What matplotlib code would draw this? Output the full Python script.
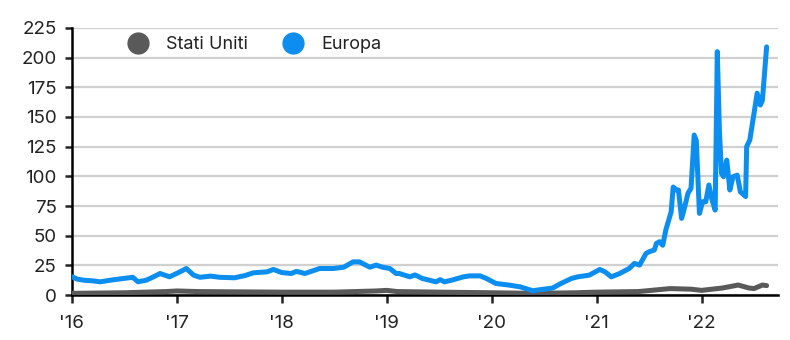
import numpy as np
import matplotlib.pyplot as plt
from matplotlib.lines import Line2D

# values (x as decimal years)
eu_years = [2016.00, 2016.05, 2016.11, 2016.20, 2016.27, 2016.37, 2016.49, 2016.58, 2016.63,
            2016.71, 2016.78, 2016.84, 2016.93, 2017.03, 2017.09, 2017.16, 2017.22, 2017.32,
            2017.41, 2017.55, 2017.65, 2017.73, 2017.86, 2017.92, 2018.00, 2018.09, 2018.14,
            2018.22, 2018.36, 2018.49, 2018.59, 2018.68, 2018.74, 2018.84, 2018.90, 2018.96,
            2019.03, 2019.09, 2019.12, 2019.22, 2019.27, 2019.34, 2019.47, 2019.51, 2019.55,
            2019.62, 2019.73, 2019.79, 2019.89, 2019.95, 2020.04, 2020.17, 2020.27, 2020.39,
            2020.48, 2020.58, 2020.66, 2020.76, 2020.82, 2020.93, 2021.03, 2021.08, 2021.14,
            2021.22, 2021.31, 2021.36, 2021.41, 2021.47, 2021.50, 2021.55, 2021.57, 2021.60,
            2021.63, 2021.66, 2021.71, 2021.73, 2021.76, 2021.78, 2021.81, 2021.84, 2021.87,
            2021.90, 2021.93, 2021.95, 2021.98, 2022.01, 2022.04, 2022.07, 2022.10, 2022.13,
            2022.15, 2022.17, 2022.19, 2022.21, 2022.24, 2022.27, 2022.30, 2022.34, 2022.37,
            2022.42, 2022.43, 2022.46, 2022.53, 2022.56, 2022.58, 2022.62]
eu_vals = [15.5, 13.5, 12.6, 12.0, 11.2, 12.6, 14.0, 15.0, 11.2,
           12.6, 15.5, 18.2, 15.4, 19.6, 22.4, 16.8, 15.0, 16.0,
           15.0, 14.6, 16.5, 18.8, 19.6, 21.6, 19.0, 18.2, 20.0,
           18.2, 22.4, 22.4, 23.5, 28.0, 28.0, 23.5, 25.3, 23.5,
           22.4, 18.2, 18.2, 15.4, 17.0, 14.0, 11.2, 13.0, 11.2,
           12.6, 15.4, 16.2, 16.2, 14.0, 9.8, 8.4, 7.0, 3.7,
           4.8, 5.9, 9.8, 14.0, 15.4, 16.8, 21.6, 19.6, 15.4,
           18.2, 22.4, 26.7, 25.3, 35.0, 36.5, 38.0, 43.5, 45.0,
           42.0, 55.0, 70.0, 91.0, 88.5, 88.5, 64.6, 74.4, 85.6,
           90.0, 134.8, 130.0, 68.8, 78.6, 78.6, 92.7, 80.0, 71.6,
           205.0, 139.0, 102.5, 99.7, 113.7, 88.5, 99.7, 101.0, 87.0,
           83.0, 125.0, 130.6, 170.0, 160.0, 164.0, 209.0]

us_years = [2016.00, 2016.50, 2016.90, 2017.00, 2017.20, 2017.50, 2018.00, 2018.50, 2018.90,
            2019.00, 2019.10, 2019.50, 2020.00, 2020.40, 2020.80, 2021.00, 2021.40, 2021.70,
            2021.90, 2022.00, 2022.20, 2022.35, 2022.45, 2022.50, 2022.58, 2022.62]
us_vals = [1.5, 2.0, 3.0, 3.5, 3.0, 2.8, 2.5, 2.5, 3.5,
           4.0, 3.0, 2.5, 2.0, 1.5, 2.0, 2.5, 3.0, 5.5,
           5.0, 4.0, 6.0, 8.5, 6.0, 5.5, 8.5, 8.0]

year_ticks = [2016, 2017, 2018, 2019, 2020, 2021, 2022]
year_labels = ["'16", "'17", "'18", "'19", "'20", "'21", "'22"]
y_ticks = list(range(0, 226, 25))

blue = '#0c8ef0'
grey = '#595959'

plt.rcParams['font.family'] = ['Inter', 'DejaVu Sans']

fig = plt.figure(figsize=(7.9, 3.4), dpi=100)
ax = fig.add_axes([0.091, 0.132, 0.894, 0.786])

ax.plot(us_years, us_vals, color=grey, linewidth=3.6, solid_capstyle='round', zorder=3)
ax.plot(eu_years, eu_vals, color=blue, linewidth=3.6, solid_capstyle='round',
        solid_joinstyle='round', zorder=4)

ax.set_xlim(2016, 2022.73)
ax.set_ylim(0, 225)
ax.set_yticks(y_ticks)
ax.set_xticks(year_ticks)
ax.set_xticklabels(year_labels)

ax.grid(axis='y', color='#d0d0d0', linewidth=1.6, zorder=0)
ax.set_axisbelow(True)
for s in ['top', 'right']:
    ax.spines[s].set_visible(False)
ax.spines['left'].set_linewidth(1.8)
ax.spines['bottom'].set_linewidth(1.8)
ax.tick_params(axis='y', length=5, width=1.8, labelsize=13.5, pad=6, colors='#222222')
ax.tick_params(axis='x', length=6, width=1.8, labelsize=13.5, pad=8, colors='#222222')

handles = [Line2D([], [], marker='o', linestyle='none', markersize=15, color=grey),
           Line2D([], [], marker='o', linestyle='none', markersize=15, color=blue)]
leg = ax.legend(handles, ['Stati Uniti', 'Europa'], loc='upper left', bbox_to_anchor=(0.045, 1.03),
                ncol=2, frameon=False, fontsize=13, handletextpad=0.55, columnspacing=1.5)
for t in leg.get_texts():
    t.set_color('#222222')

fig.savefig('out.png', dpi=100)
